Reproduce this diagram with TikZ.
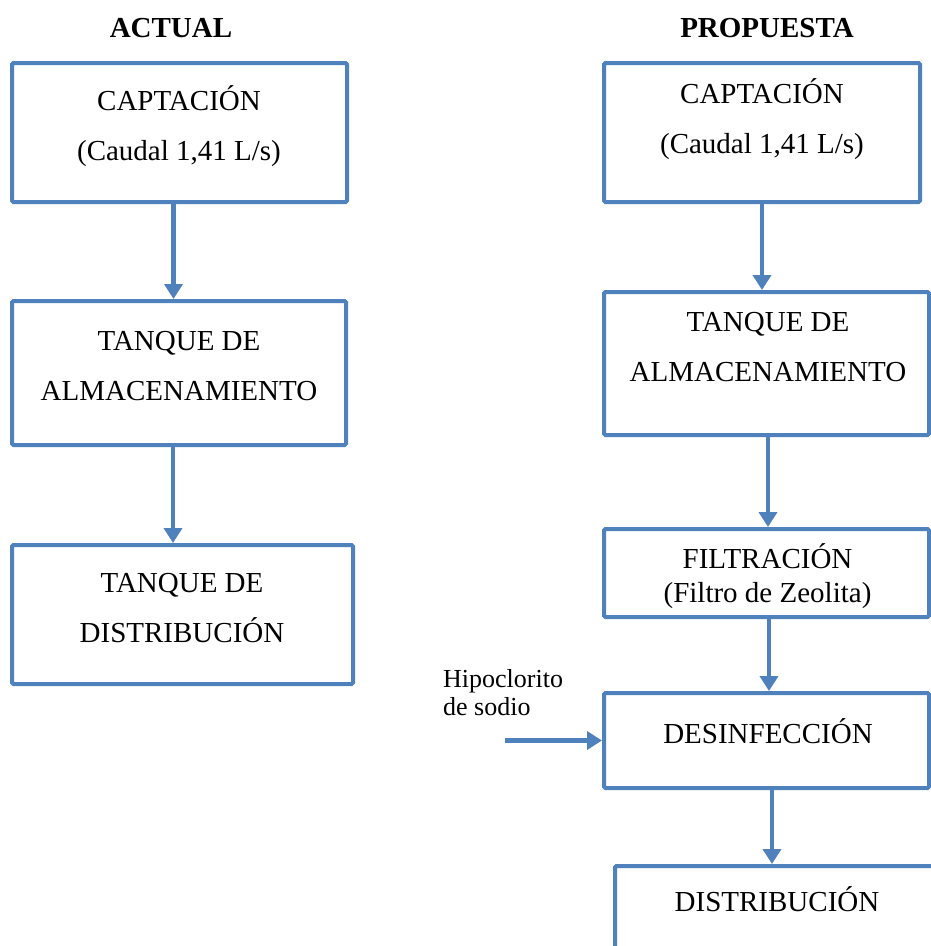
\documentclass[tikz,border=0pt]{standalone}
\usepackage{fontspec}
\setmainfont{Liberation Serif}
\usetikzlibrary{arrows.meta}
\definecolor{azul}{RGB}{79,129,189}
\begin{document}
\begin{tikzpicture}[x=1pt,y=-1pt,
        caja/.style={draw=azul,line width=4pt,rounded corners=1.5pt,inner sep=0pt},
        texto/.style={anchor=base,align=center,font=\fontsize{29}{50}\selectfont},
        titulo/.style={anchor=base,font=\fontsize{29}{35}\selectfont\bfseries},
        flecha/.style={draw=azul,line width=4.5pt,-{Triangle[width=18pt,length=15pt]}}]
                \useasboundingbox (0,0) rectangle (931,946);
                \clip (0,0) rectangle (931,946);
                \node[titulo] (tActual) at (171,37) {ACTUAL};
                \node[titulo] (tPropuesta) at (767,37) {PROPUESTA};
                % actual
                \node[caja,minimum width=335pt,minimum height=139pt] (aCap) at (179.5,132.5) {};
                \node[caja,minimum width=334pt,minimum height=144pt] (aTanque) at (179,373) {};
                \node[caja,minimum width=341pt,minimum height=139pt] (aDist) at (182.5,614.5) {};
                \node[texto] at (179,160) {CAPTACIÓN\\(Caudal 1,41 L/s)};
                \node[texto] at (179,400) {TANQUE DE\\ALMACENAMIENTO};
                \node[texto] at (182,642) {TANQUE DE\\DISTRIBUCIÓN};
                \draw[flecha] ([xshift=-6pt]aCap.south) -- ([xshift=-6pt]aCap.south |- aTanque.north);
                \draw[flecha] ([xshift=-6pt]aTanque.south) -- ([xshift=-6pt]aTanque.south |- aDist.north);
                % propuesta
                \node[caja,minimum width=316pt,minimum height=139pt] (pCap) at (762,132.5) {};
                \node[caja,minimum width=325pt,minimum height=143pt] (pTanque) at (766.5,363.5) {};
                \node[caja,minimum width=325pt,minimum height=88pt] (pFiltro) at (766.5,573) {};
                \node[caja,minimum width=325pt,minimum height=95pt] (pDesinf) at (766.5,740.5) {};
                \node[caja,minimum width=330pt,minimum height=134pt] (pDistrib) at (780,933) {};
                \node[texto] at (762,153) {CAPTACIÓN\\(Caudal 1,41 L/s)};
                \node[texto] at (768,381) {TANQUE DE\\ALMACENAMIENTO};
                \node[texto,font=\fontsize{29}{34}\selectfont] at (767.5,602) {FILTRACIÓN\\(Filtro de Zeolita)};
                \node[texto] at (768,743) {DESINFECCIÓN};
                \node[texto] at (777,911) {DISTRIBUCIÓN};
                \node[anchor=base west,align=left,inner sep=0pt,font=\fontsize{26}{28}\selectfont] (hipo) at (443,715) {Hipoclorito\\de sodio};
                \coordinate (cloro) at (505,740.5);
                \draw[flecha] (pCap.south) -- (pCap.south |- pTanque.north);
                \draw[flecha] ([xshift=1.5pt]pTanque.south) -- ([xshift=1.5pt]pTanque.south |- pFiltro.north);
                \draw[flecha] ([xshift=2.5pt]pFiltro.south) -- ([xshift=2.5pt]pFiltro.south |- pDesinf.north);
                \draw[flecha] ([xshift=5.5pt]pDesinf.south) -- ([xshift=5.5pt]pDesinf.south |- pDistrib.north);
                \draw[flecha] (cloro) -- (pDesinf.west);
            \end{tikzpicture}
\end{document}
